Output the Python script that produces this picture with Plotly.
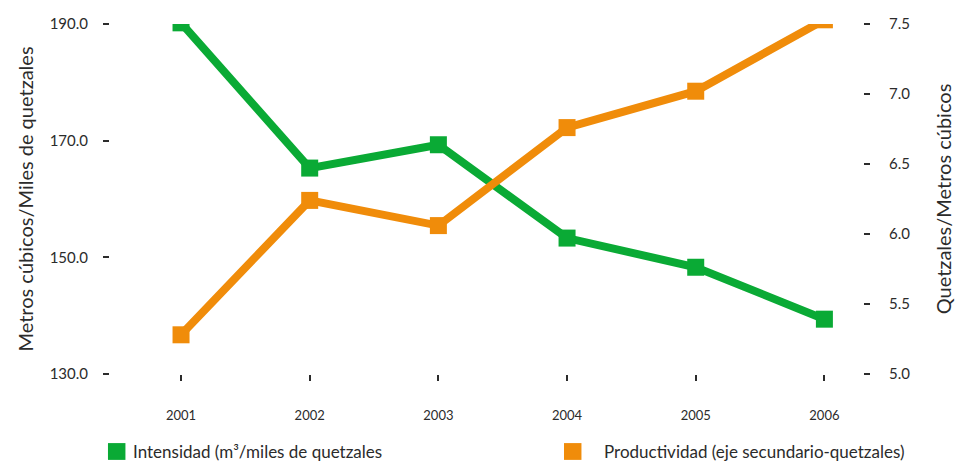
import plotly.graph_objects as go

years = [2001, 2002, 2003, 2004, 2005, 2006]
intensidad = [190.2, 165.3, 169.3, 153.3, 148.3, 139.4]
productividad = [5.28, 6.24, 6.06, 6.76, 7.02, 7.53]
legend_names = ["Intensidad (m³/miles de quetzales",
                "Productividad (eje secundario-quetzales)"]

green = "#0aaa35"
orange = "#f08c0a"
txt = "#2b2b2b"
font_family = "Lato, 'Open Sans', sans-serif"

fig = go.Figure()

fig.add_trace(go.Scatter(
    x=years, y=intensidad, mode="lines+markers", name=legend_names[0],
    line=dict(color=green, width=8),
    marker=dict(symbol="square", size=17, color=green),
    showlegend=False, yaxis="y",
))
fig.add_trace(go.Scatter(
    x=years, y=productividad, mode="lines+markers", name=legend_names[1],
    line=dict(color=orange, width=8),
    marker=dict(symbol="square", size=17, color=orange),
    showlegend=False, yaxis="y2",
))

# bottom legend: square swatch + label for each series (paper coords)
legend_items = [
    # name, colour, swatch left, label left
    (legend_names[0], green, -0.0027, 0.0279),
    (legend_names[1], orange, 0.6029, 0.6534),
]
sw_w = 0.0232   # swatch width in paper units
sw_h = 0.024    # swatch half height in paper units
y_leg = -0.2214
for name, color, x0, xt in legend_items:
    fig.add_shape(type="rect", xref="paper", yref="paper",
                  x0=x0, x1=x0 + sw_w, y0=y_leg - sw_h, y1=y_leg + sw_h,
                  fillcolor=color, line=dict(width=0))
    fig.add_annotation(text=name, xref="paper", yref="paper",
                       x=xt, y=y_leg, xanchor="left", yanchor="middle",
                       showarrow=False, font=dict(size=17, color=txt))

fig.update_layout(
    width=955, height=461,
    margin=dict(l=110, r=92, t=24, b=87, autoexpand=False),
    paper_bgcolor="white", plot_bgcolor="white",
    font=dict(family=font_family, color=txt, size=14),
    showlegend=False,
    xaxis=dict(
        range=[2000.448, 2006.30], tickvals=years, ticktext=[str(y) for y in years],
        showgrid=False, zeroline=False, showline=False,
        ticks="outside", ticklen=6, tickwidth=1.5, tickcolor=txt,
        tickfont=dict(size=13), ticklabelstandoff=23,
    ),
    yaxis=dict(
        range=[130, 190], tick0=130, dtick=20, tickformat=".1f",
        showgrid=False, zeroline=False, showline=False,
        ticks="outside", ticklen=6, tickwidth=1.5, tickcolor=txt,
        tickfont=dict(size=15), ticklabelstandoff=12,
        title=dict(text="Metros cúbicos/Miles de quetzales", font=dict(size=20), standoff=10),
    ),
    yaxis2=dict(
        range=[5.0, 7.5], tick0=5.0, dtick=0.5, tickformat=".1f",
        overlaying="y", side="right",
        showgrid=False, zeroline=False, showline=False,
        ticks="outside", ticklen=6, tickwidth=1.5, tickcolor=txt,
        tickfont=dict(size=15), ticklabelstandoff=16,
        title=dict(text="Quetzales/Metros cúbicos", font=dict(size=20), standoff=27),
    ),
)

fig.write_html("out.html")
